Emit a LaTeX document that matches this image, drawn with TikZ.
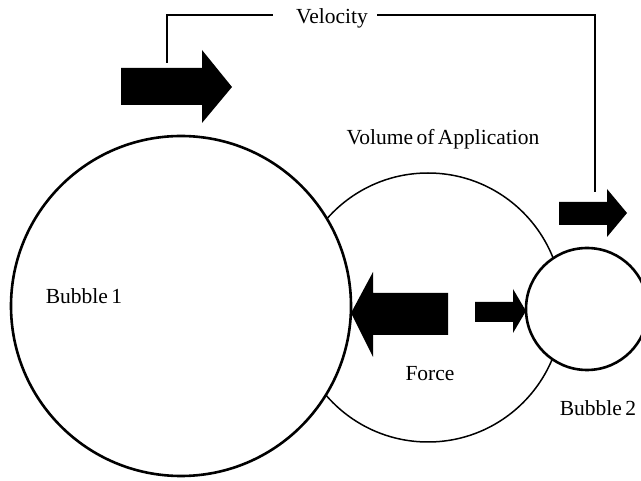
\documentclass[tikz,border=0pt]{standalone}
\usepackage{fontspec}
\setmainfont{Liberation Serif}
\newfontfamily\lblfont[WordSpace=0.65]{Liberation Serif}
\begin{document}
\begin{tikzpicture}[x=1pt,y=-1pt,
  lbl/.style={inner sep=0pt, font=\lblfont\fontsize{21.5}{23}\selectfont},
  bigarrow/.style={fill=black, draw=none},
  bubble/.style={circle, draw=black, fill=white, line width=2.6pt, inner sep=0pt},
  vol/.style={circle, draw=black, fill=white, line width=1.5pt, inner sep=0pt},
  link/.style={draw=black, line width=1.6pt}]
\useasboundingbox (0,0) rectangle (641,481);
\clip (0,0) rectangle (641,481);
\fill[white] (0,0) rectangle (641,481);
% circles
\node[vol, minimum size=269pt] (vol) at (428,307.5) {};
\node[bubble, minimum size=340pt] (b1) at (181,306) {};
\node[bubble, minimum size=122pt] (b2) at (587,309) {};
% labels
\node[lbl] (tb1) at (84,296) {Bubble 1};
\node[lbl] (tb2) at (598,408) {Bubble 2};
\node[lbl] (tvol) at (443,139) {Volume of Application};
\node[lbl] (tforce) at (430,374) {Force};
\node[lbl] (tvel) at (332,18) {Velocity};
% velocity connector
\coordinate (v1) at (167,63);
\coordinate (v2) at (167,15);
\coordinate (v3) at (595,15);
\coordinate (v4) at (595,192);
\draw[link] (v1) -- (v2) -- (273,15);
\draw[link] (377,15) -- (v3) -- (v4);
% block arrows
\fill[bigarrow] (121,68) -- (202,68) -- (202,50) -- (232,87) -- (202,123) -- (202,105) -- (121,105) -- cycle;
\fill[bigarrow] (559,202) -- (607,202) -- (607,189) -- (627,213) -- (607,237) -- (607,225) -- (559,225) -- cycle;
\fill[bigarrow] (448,293) -- (373,293) -- (373,272) -- (351,313) -- (373,357) -- (373,335) -- (448,335) -- cycle;
\fill[bigarrow] (475,302) -- (513,302) -- (513,289) -- (526,311) -- (513,333) -- (513,322) -- (475,322) -- cycle;
\end{tikzpicture}
\end{document}
